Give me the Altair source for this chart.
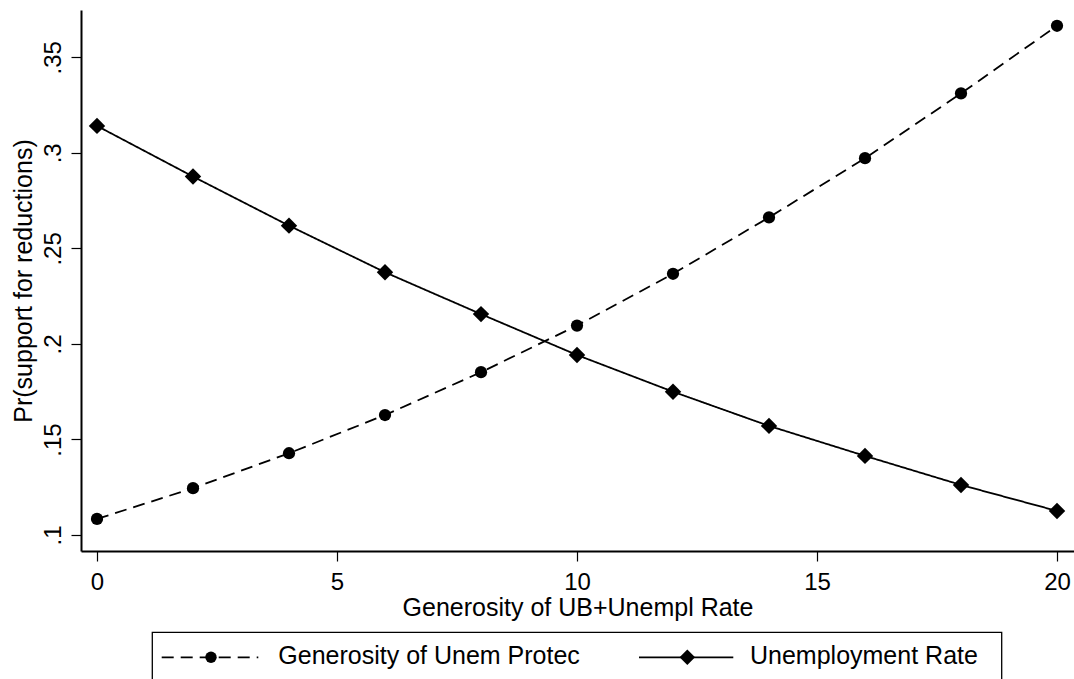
import altair as alt
import pandas as pd

# Predicted probabilities over the generosity / unemployment range
x_vals = [0, 2, 4, 6, 8, 10, 12, 14, 16, 18, 20]
generosity = [0.1084, 0.1245, 0.1428, 0.1628, 0.1852, 0.2096,
              0.2367, 0.2662, 0.2972, 0.3311, 0.3665]
unemployment = [0.3141, 0.2876, 0.2619, 0.2375, 0.2156, 0.1942,
                0.1750, 0.1571, 0.1414, 0.1262, 0.1126]
series_names = ["Generosity of Unem Protec", "Unemployment Rate"]

x_ticks = [0, 5, 10, 15, 20]
y_ticks = [0.10, 0.15, 0.20, 0.25, 0.30, 0.35]

FONT = "Liberation Sans, Arial, Helvetica, sans-serif"
DASH = [12, 7]
LINE_W = 1.8

df = pd.concat([
    pd.DataFrame({"x": x_vals, "prob": generosity, "series": series_names[0]}),
    pd.DataFrame({"x": x_vals, "prob": unemployment, "series": series_names[1]}),
])

x_enc = alt.X(
    "x:Q",
    scale=alt.Scale(domain=[-0.3333, 20.354], nice=False, zero=False),
    axis=alt.Axis(
        values=x_ticks, format="d", labelPadding=9, labelBaseline="top",
        labelFlush=False, labelOverlap=False,
        title="Generosity of UB+Unempl Rate", titleBaseline="alphabetic",
        titleAlign="center", titleX=496.5, titleY=64,
    ),
)
y_enc = alt.Y(
    "prob:Q",
    scale=alt.Scale(domain=[0.09163, 0.37475], nice=False, zero=False),
    axis=alt.Axis(
        values=y_ticks,
        labelExpr="substring(format(datum.value, '.2~f'), 1)",
        labelAngle=270, labelAlign="center", labelBaseline="alphabetic",
        labelPadding=11, labelFlush=False, labelOverlap=False,
        title="Pr(support for reductions)", titleAngle=270,
        titleBaseline="alphabetic", titleAlign="center",
        titleX=-50, titleY=270.5,
    ),
)

lines = alt.Chart(df).mark_line(color="black", strokeWidth=LINE_W).encode(
    x=x_enc,
    y=y_enc,
    strokeDash=alt.StrokeDash(
        "series:N",
        scale=alt.Scale(domain=series_names, range=[DASH, [1, 0]]),
        legend=None,
    ),
    order="x:Q",
)

points = alt.Chart(df).mark_point(filled=True, color="black", opacity=1).encode(
    x="x:Q",
    y="prob:Q",
    shape=alt.Shape(
        "series:N",
        scale=alt.Scale(domain=series_names, range=["circle", "diamond"]),
        legend=None,
    ),
    size=alt.Size(
        "series:N",
        scale=alt.Scale(domain=series_names, range=[150, 270]),
        legend=None,
    ),
)

# Key below the axis title: framed box with line+marker samples
one = alt.Data(values=[{}])
key_y = 647.3
key_box = alt.Chart(one).mark_rect(
    fillOpacity=0, stroke="black", strokeWidth=1.3
).encode(
    x=alt.value(71.3), x2=alt.value(920.7),
    y=alt.value(622.3), y2=alt.value(720),
)
key_line1 = alt.Chart(one).mark_rule(
    color="black", strokeWidth=LINE_W, strokeDash=DASH
).encode(x=alt.value(80.7), x2=alt.value(177.3), y=alt.value(key_y))
key_pt1 = alt.Chart(one).mark_point(
    filled=True, color="black", opacity=1, shape="circle", size=130
).encode(x=alt.value(130), y=alt.value(key_y))
key_txt1 = alt.Chart(one).mark_text(
    align="left", baseline="alphabetic", font=FONT, fontSize=25, color="black"
).encode(x=alt.value(197.3), y=alt.value(654.3), text=alt.value(series_names[0]))
key_line2 = alt.Chart(one).mark_rule(
    color="black", strokeWidth=LINE_W
).encode(x=alt.value(558), x2=alt.value(652.3), y=alt.value(key_y))
key_pt2 = alt.Chart(one).mark_point(
    filled=True, color="black", opacity=1, shape="diamond", size=240
).encode(x=alt.value(606.3), y=alt.value(key_y))
key_txt2 = alt.Chart(one).mark_text(
    align="left", baseline="alphabetic", font=FONT, fontSize=25, color="black"
).encode(x=alt.value(669), y=alt.value(654.3), text=alt.value(series_names[1]))

chart = alt.layer(
    lines, points,
    key_box, key_line1, key_pt1, key_txt1, key_line2, key_pt2, key_txt2,
).properties(
    width=993,
    height=541,
    autosize=alt.AutoSizeParams(type="none"),
    padding={"left": 81, "top": 10, "right": 0, "bottom": 128},
    background="white",
).configure_view(
    strokeWidth=0
).configure_axis(
    grid=False,
    domainColor="black", domainWidth=2,
    tickColor="black", tickWidth=1.2, tickSize=10,
    labelFont=FONT, labelFontSize=24, labelColor="black",
    titleFont=FONT, titleFontSize=25, titleFontWeight="normal", titleColor="black",
)

chart.save("out.html", embed_options={"renderer": "svg", "actions": False})
